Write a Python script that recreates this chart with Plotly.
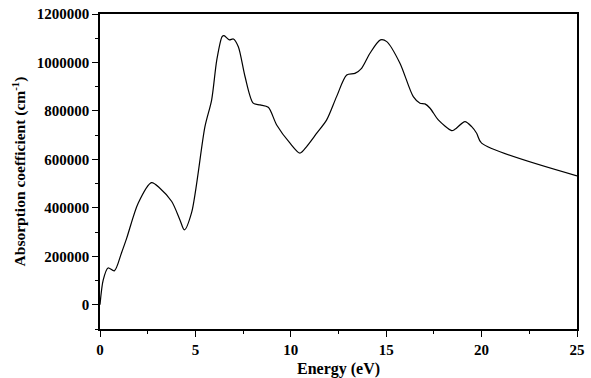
import plotly.graph_objects as go

energy = [0.0, 0.17, 0.42, 0.75, 1.13, 1.4, 2.0, 2.7, 3.14, 3.76, 4.19, 4.42, 4.8,
          5.5, 5.85, 6.12, 6.4, 6.5, 6.78, 6.99, 7.25, 7.6, 8.03, 8.39, 8.82,
          9.26, 9.96, 10.48, 10.83, 11.36, 11.88, 12.4, 12.93, 13.36, 13.71, 14.15,
          14.7, 15.03, 15.72, 16.42, 16.77, 17.03, 17.3, 17.73, 18.43, 18.6, 19.13,
          19.48, 19.74, 20.0, 25.0]
absorption = [0, 103000, 152000, 140000, 215000, 275000, 419000, 504000, 481000,
              426000, 350000, 309000, 380000, 735000, 845000, 1010000, 1107000,
              1111000, 1093000, 1097000, 1065000, 942000, 832000, 825000, 815000, 742000,
              667000, 626000, 653000, 708000, 763000, 859000, 948000, 955000, 976000,
              1038000, 1093000, 1086000, 997000, 859000, 832000, 829000, 811000, 763000,
              719000, 724000, 756000, 735000, 708000, 667000, 532000]

x_ticks = [0, 5, 10, 15, 20, 25]
y_ticks = [0, 200000, 400000, 600000, 800000, 1000000, 1200000]

font_family = "Times New Roman"

fig = go.Figure()
fig.add_trace(go.Scatter(x=energy, y=absorption, mode="lines",
                         line=dict(color="black", width=1.2, shape="spline", smoothing=0.8),
                         showlegend=False))

axis_common = dict(showgrid=False, zeroline=False, showline=True, linecolor="black",
                   linewidth=1.5, ticks="outside", ticklen=6, tickwidth=1.2, tickcolor="black",
                   mirror=True, automargin=False,
                   tickfont=dict(family=font_family, size=15, color="black", weight="bold"))

fig.update_layout(
    width=591, height=378,
    margin=dict(l=100, r=14, t=14, b=49),
    plot_bgcolor="white", paper_bgcolor="white",
    font=dict(family=font_family, color="black"),
    xaxis=dict(range=[0, 25], tickvals=x_ticks,
               ticktext=["<b>%d</b>" % v for v in x_ticks],
               minor=dict(ticks="outside", ticklen=3, dtick=2.5, tick0=0, tickcolor="black"),
               title=dict(text="<b>Energy (eV)</b>", standoff=6,
                          font=dict(family=font_family, size=16, color="black")),
               **axis_common),
    yaxis=dict(range=[-100000, 1200000], tickvals=y_ticks,
               ticktext=["<b>%d</b>" % v for v in y_ticks],
               minor=dict(ticks="outside", ticklen=3, dtick=100000, tick0=0, tickcolor="black"),
               title=dict(text="<b>Absorption coefficient (cm<sup>-1</sup>)</b>", standoff=7,
                          font=dict(family=font_family, size=15.5, color="black")),
               **axis_common),
)

fig.write_html("out.html")
